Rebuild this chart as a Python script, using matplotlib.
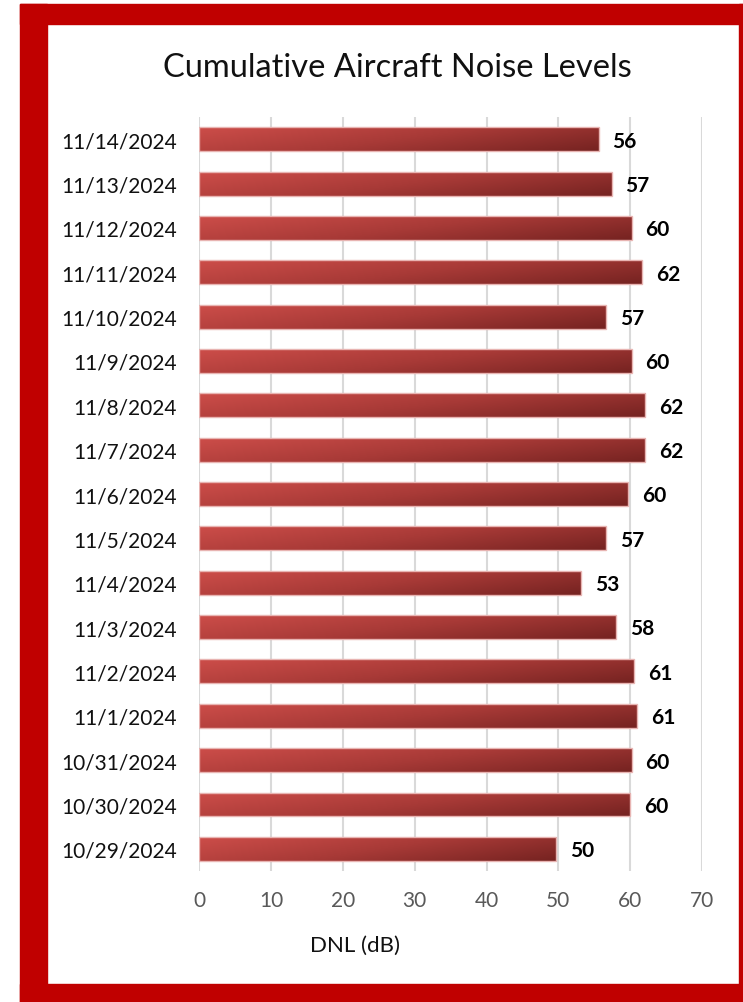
import numpy as np
import matplotlib.pyplot as plt
from matplotlib.colors import LinearSegmentedColormap
from matplotlib.patches import Rectangle

plt.rcParams['font.family'] = ['Lato', 'DejaVu Sans']

# data (top to bottom as shown)
dates = ["11/14/2024", "11/13/2024", "11/12/2024", "11/11/2024", "11/10/2024",
         "11/9/2024", "11/8/2024", "11/7/2024", "11/6/2024", "11/5/2024",
         "11/4/2024", "11/3/2024", "11/2/2024", "11/1/2024", "10/31/2024",
         "10/30/2024", "10/29/2024"]
dnl = [55.6, 57.4, 60.2, 61.6, 56.6, 60.2, 62.1, 62.1, 59.7, 56.6,
       53.1, 58.0, 60.5, 60.9, 60.2, 60.0, 49.7]
dnl_labels = ["56", "57", "60", "62", "57", "60", "62", "62", "60", "57",
              "53", "58", "61", "61", "60", "60", "50"]

fig = plt.figure(figsize=(7.43, 10.03), dpi=100)
ax = fig.add_axes([0.268, 0.1306, 0.677, 0.7517])

# red frame around the chart
red = '#c00000'
fig.patches.append(Rectangle((20/743, 0), 27/743, 998/1003, transform=fig.transFigure, color=red, zorder=0))
fig.patches.append(Rectangle((20/743, 978/1003), 723/743, 20/1003, transform=fig.transFigure, color=red, zorder=0))
fig.patches.append(Rectangle((20/743, 0), 723/743, 18/1003, transform=fig.transFigure, color=red, zorder=0))
fig.patches.append(Rectangle((739/743, 0), 4/743, 998/1003, transform=fig.transFigure, color=red, zorder=0))

cmap = LinearSegmentedColormap.from_list('bar', ['#cc4d49', '#a83a37', '#762321'])
ypos = np.arange(len(dates))
h = 0.54
bars = ax.barh(ypos, dnl, height=h, color='none', edgecolor='#e8b4b2', linewidth=1, zorder=3)

gx, gy = np.meshgrid(np.linspace(0, 1, 200), np.linspace(0, 1, 20))
grad = 0.7 * gx + 0.3 * gy
for bar, y, v in zip(bars, ypos, dnl):
    im = ax.imshow(grad, cmap=cmap, aspect='auto', origin='upper',
                   extent=(0, v, y + h / 2, y - h / 2), zorder=2, interpolation='bilinear')
    im.set_clip_path(bar)

for y, v, lab in zip(ypos, dnl, dnl_labels):
    ax.annotate(lab, (v, y), xytext=(10, -1), textcoords='offset points',
                va='center', ha='left', fontsize=15, fontweight='bold', color='black')

ax.set_xlim(0, 70)
ax.set_ylim(len(dates) - 0.5, -0.5)
ax.set_xticks(range(0, 71, 10))
ax.set_yticks(ypos)
ax.set_yticklabels(dates)
ax.tick_params(axis='y', length=0, labelsize=15, pad=16, labelcolor='#111111')
ax.tick_params(axis='x', length=0, labelsize=15, pad=14, labelcolor='#595959')
ax.grid(axis='x', color='#d9d9d9', linewidth=1.5, zorder=0)
ax.set_axisbelow(True)
for s in ax.spines.values():
    s.set_visible(False)

ax.set_xlabel('DNL (dB)', fontsize=16, color='#111111')
ax.xaxis.set_label_coords(0.31, -0.085)

fig.text(397/743, 1 - 68/1003, 'Cumulative Aircraft Noise Levels', ha='center', va='center',
         fontsize=23.5, color='#111111')

plt.savefig('out.png', dpi=100)
